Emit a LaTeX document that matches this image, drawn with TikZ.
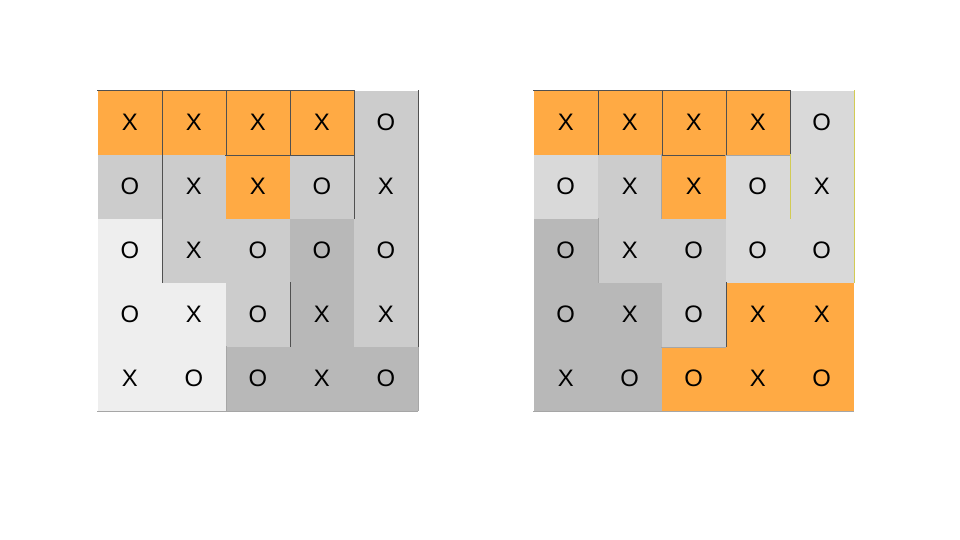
\documentclass[tikz,border=0pt]{standalone}
\usepackage{fontspec}
\setmainfont{Liberation Sans}
\usepackage{tikz}
\definecolor{orng}{HTML}{FFAA44}
\definecolor{lgray}{HTML}{EEEEEE}
\definecolor{pgray}{HTML}{D9D9D9}
\definecolor{mgray}{HTML}{CCCCCC}
\definecolor{dgray}{HTML}{B8B8B8}
\definecolor{edge}{HTML}{505050}
\tikzset{
  cell/.style={minimum size=1cm,inner sep=0pt,font=\fontsize{10.6}{12}\selectfont},
  rim/.style={draw=edge,line width=0.4pt},
  faint/.style={draw=gray!70,line width=0.4pt}
}

\begin{document}
\begin{tikzpicture}
    \useasboundingbox (0cm,0cm) rectangle (15cm,8.4375cm);

    % left board
    \node[cell,fill=orng]  (a11) at (2.03cm,6.52cm) {X};
    \node[cell,fill=orng]  (a12) at (3.03cm,6.52cm) {X};
    \node[cell,fill=orng]  (a13) at (4.03cm,6.52cm) {X};
    \node[cell,fill=orng]  (a14) at (5.03cm,6.52cm) {X};
    \node[cell,fill=mgray] (a15) at (6.03cm,6.52cm) {O};

    \node[cell,fill=mgray] (a21) at (2.03cm,5.52cm) {O};
    \node[cell,fill=mgray] (a22) at (3.03cm,5.52cm) {X};
    \node[cell,fill=orng]  (a23) at (4.03cm,5.52cm) {X};
    \node[cell,fill=mgray] (a24) at (5.03cm,5.52cm) {O};
    \node[cell,fill=mgray] (a25) at (6.03cm,5.52cm) {X};

    \node[cell,fill=lgray] (a31) at (2.03cm,4.52cm) {O};
    \node[cell,fill=mgray] (a32) at (3.03cm,4.52cm) {X};
    \node[cell,fill=mgray] (a33) at (4.03cm,4.52cm) {O};
    \node[cell,fill=dgray] (a34) at (5.03cm,4.52cm) {O};
    \node[cell,fill=mgray] (a35) at (6.03cm,4.52cm) {O};

    \node[cell,fill=lgray] (a41) at (2.03cm,3.52cm) {O};
    \node[cell,fill=lgray] (a42) at (3.03cm,3.52cm) {X};
    \node[cell,fill=mgray] (a43) at (4.03cm,3.52cm) {O};
    \node[cell,fill=dgray] (a44) at (5.03cm,3.52cm) {X};
    \node[cell,fill=mgray] (a45) at (6.03cm,3.52cm) {X};

    \node[cell,fill=lgray] (a51) at (2.03cm,2.52cm) {X};
    \node[cell,fill=lgray] (a52) at (3.03cm,2.52cm) {O};
    \node[cell,fill=dgray] (a53) at (4.03cm,2.52cm) {O};
    \node[cell,fill=dgray] (a54) at (5.03cm,2.52cm) {X};
    \node[cell,fill=dgray] (a55) at (6.03cm,2.52cm) {O};

    \draw[rim] (a11.north west) -- (a14.north east);
    \draw[rim] (a11.north east) -- (a11.south east);
    \draw[rim] (a12.north east) -- (a12.south east);
    \draw[rim] (a13.north east) -- (a13.south east);
    \draw[rim] (a14.north east) -- (a14.south east);
    \draw[rim] (a13.south west) -- (a14.south east);
    \draw[rim] (a21.north east) -- (a31.south east);
    \draw[rim] (a24.north east) -- (a24.south east);
    \draw[rim] (a43.north east) -- (a43.south east);
    \draw[rim] (a15.north east) -- (a45.south east);
    \draw[faint] (a52.north east) -- (a52.south east);
    \draw[faint] (a51.south west) -- (a55.south east);
    \draw[faint] (a45.south east) -- (a55.south east);

    % right board
    \node[cell,fill=orng]  (b11) at (8.84cm,6.52cm) {X};
    \node[cell,fill=orng]  (b12) at (9.84cm,6.52cm) {X};
    \node[cell,fill=orng]  (b13) at (10.84cm,6.52cm) {X};
    \node[cell,fill=orng]  (b14) at (11.84cm,6.52cm) {X};
    \node[cell,fill=pgray] (b15) at (12.84cm,6.52cm) {O};

    \node[cell,fill=pgray] (b21) at (8.84cm,5.52cm) {O};
    \node[cell,fill=mgray] (b22) at (9.84cm,5.52cm) {X};
    \node[cell,fill=orng]  (b23) at (10.84cm,5.52cm) {X};
    \node[cell,fill=pgray] (b24) at (11.84cm,5.52cm) {O};
    \node[cell,fill=pgray] (b25) at (12.84cm,5.52cm) {X};

    \node[cell,fill=dgray] (b31) at (8.84cm,4.52cm) {O};
    \node[cell,fill=mgray] (b32) at (9.84cm,4.52cm) {X};
    \node[cell,fill=mgray] (b33) at (10.84cm,4.52cm) {O};
    \node[cell,fill=pgray] (b34) at (11.84cm,4.52cm) {O};
    \node[cell,fill=pgray] (b35) at (12.84cm,4.52cm) {O};

    \node[cell,fill=dgray] (b41) at (8.84cm,3.52cm) {O};
    \node[cell,fill=dgray] (b42) at (9.84cm,3.52cm) {X};
    \node[cell,fill=mgray] (b43) at (10.84cm,3.52cm) {O};
    \node[cell,fill=orng]  (b44) at (11.84cm,3.52cm) {X};
    \node[cell,fill=orng]  (b45) at (12.84cm,3.52cm) {X};

    \node[cell,fill=dgray] (b51) at (8.84cm,2.52cm) {X};
    \node[cell,fill=dgray] (b52) at (9.84cm,2.52cm) {O};
    \node[cell,fill=orng]  (b53) at (10.84cm,2.52cm) {O};
    \node[cell,fill=orng]  (b54) at (11.84cm,2.52cm) {X};
    \node[cell,fill=orng]  (b55) at (12.84cm,2.52cm) {O};

    \draw[rim] (b11.north west) -- (b14.north east);
    \draw[rim] (b11.north east) -- (b11.south east);
    \draw[rim] (b12.north east) -- (b12.south east);
    \draw[rim] (b13.north east) -- (b13.south east);
    \draw[rim] (b14.north east) -- (b14.south east);
    \draw[rim] (b13.south west) -- (b13.south east);
    \draw[rim] (b43.north east) -- (b43.south east);
    \draw[faint] (b14.south west) -- (b14.south east);
    \draw[faint] (b23.north west) -- (b23.south west);
    \draw[faint] (b31.north east) -- (b31.south east);
    \draw[faint] (b43.south west) -- (b43.south east);
    \draw[draw=yellow!60!gray,line width=0.4pt] (b24.north east) -- (b24.south east);
    \draw[draw=yellow!60!gray,line width=0.4pt] (b15.north east) -- (b35.south east);
    \draw[faint] (b51.south west) -- (b55.south east);
\end{tikzpicture}
\end{document}
